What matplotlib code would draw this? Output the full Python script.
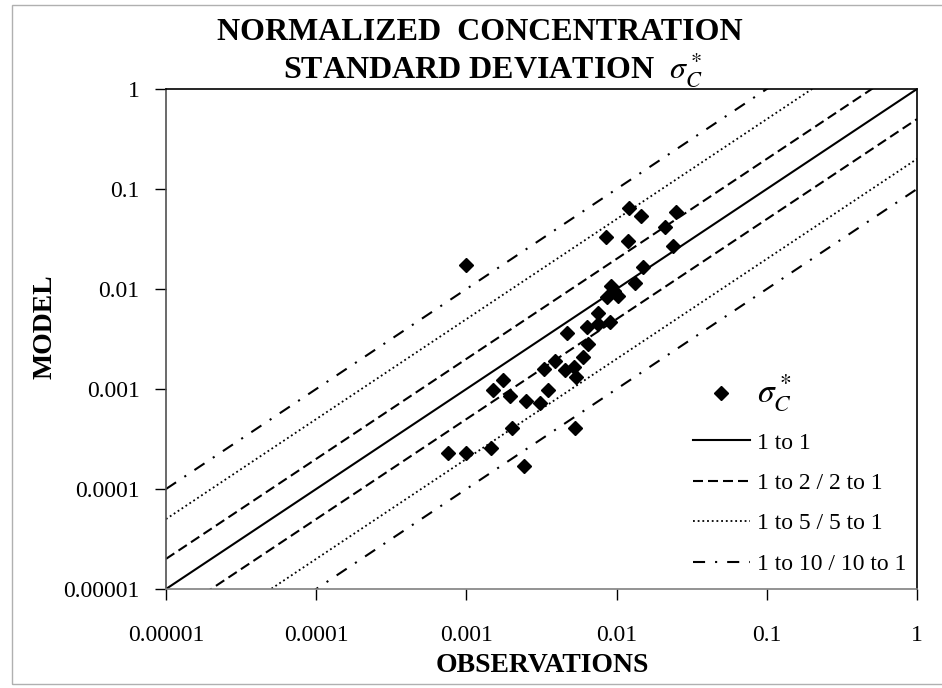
import matplotlib
matplotlib.use("Agg")
import matplotlib.pyplot as plt
from matplotlib.lines import Line2D
from matplotlib.patches import Rectangle
from matplotlib.ticker import NullLocator

plt.rcParams['font.family'] = ['Liberation Serif', 'DejaVu Serif']
plt.rcParams['mathtext.fontset'] = 'stix'

# wartości (obserwacje / model)
obs = [0.00099, 0.0121, 0.0145, 0.0249, 0.0085, 0.0119, 0.0210, 0.0237, 0.0150, 0.0133,
       0.0092, 0.0102, 0.0086, 0.0096, 0.0075, 0.0090, 0.0064, 0.0047, 0.0065, 0.0060,
       0.0039, 0.0033, 0.0045, 0.0052, 0.0054, 0.0035, 0.00175, 0.0015, 0.00195, 0.0025,
       0.0031, 0.0020, 0.0053, 0.00075, 0.0010, 0.00146, 0.0024, 0.0075]
model = [0.0174, 0.0646, 0.0537, 0.0589, 0.0331, 0.0302, 0.0417, 0.0269, 0.0166, 0.0115,
         0.0107, 0.0085, 0.0083, 0.0096, 0.0058, 0.0047, 0.0042, 0.0036, 0.0028, 0.0021,
         0.0019, 0.0016, 0.00155, 0.00166, 0.00132, 0.00098, 0.00123, 0.00098, 0.00085, 0.00076,
         0.00072, 0.00041, 0.00041, 0.00023, 0.00023, 0.00026, 0.00017, 0.0045]

tick_vals = [0.00001, 0.0001, 0.001, 0.01, 0.1, 1]
tick_labels = ['0.00001', '0.0001', '0.001', '0.01', '0.1', '1']
line_ends = [0.00001, 1]
factors = [1, 2, 5, 10]  # linie 1:1, 1:2, 1:5, 1:10
line_labels = ['1 to 1', '1 to 2 / 2 to 1', '1 to 5 / 5 to 1', '1 to 10 / 10 to 1']
styles = ['-', (0, (4.8, 2.4)), (0, (1, 1.6)), (0, (5.8, 4.8, 1, 4.8))]

fig = plt.figure(figsize=(9.42, 6.88), dpi=100)
ax = fig.add_axes([166/942, 1-589/688, 751/942, 500/688])
ax.set_xscale('log')
ax.set_yscale('log')

handles = []
for f, st, lab in zip(factors, styles, line_labels):
    lw = 1.5 if f != 5 else 1.3
    ax.plot(line_ends, [v*f for v in line_ends], color='black', ls=st, lw=lw)
    if f != 1:
        ax.plot(line_ends, [v/f for v in line_ends], color='black', ls=st, lw=lw)
    handles.append(Line2D([], [], color='black', ls=st, lw=lw))

ax.plot(obs, model, 'D', color='black', ms=7.5, ls='none')

ax.set_xlim(0.00001, 1)
ax.set_ylim(0.00001, 1)
ax.set_xticks(tick_vals)
ax.set_xticklabels(tick_labels)
ax.set_yticks(tick_vals)
ax.set_yticklabels(tick_labels)
ax.xaxis.set_minor_locator(NullLocator())
ax.yaxis.set_minor_locator(NullLocator())
ax.tick_params(axis='both', direction='out', length=8, width=1, labelsize=17)
ax.tick_params(axis='x', pad=18)
ax.tick_params(axis='y', pad=11)
for s in ax.spines.values():
    s.set_linewidth(1.2)
ax.spines['bottom'].set_color('#808080')
ax.spines['left'].set_color('#505050')

h0 = Line2D([], [], marker='D', color='black', ms=7.5, ls='none')
leg = ax.legend([h0] + handles, [r'$\sigma_C^*$'] + line_labels, loc='lower left',
                bbox_to_anchor=(0.683, 0.0), frameon=False, fontsize=17,
                handlelength=2.4, handletextpad=0.3, labelspacing=0.8, borderaxespad=0.2)
leg.get_texts()[0].set_fontsize(24)

fig.text(480/942, 1-32/688, 'NORMALIZED  CONCENTRATION', ha='center', va='center',
         fontsize=23, fontweight='bold')
fig.text(493/942, 1-70/688, r'STANDARD DEVIATION  $\sigma_C^*$', ha='center', va='center',
         fontsize=23, fontweight='bold')
fig.text(45/942, 1-327/688, 'MODEL', rotation=90, ha='center', va='center',
         fontsize=20, fontweight='bold')
fig.text(542/942, 1-665/688, 'OBSERVATIONS', ha='center', va='center',
         fontsize=20, fontweight='bold')

# ramka wokół obrazka
fig.patches.append(Rectangle((12/942, 1-684/688), 1.0, 679/688, transform=fig.transFigure,
                             fill=False, edgecolor='#b0b0b0', lw=1))

plt.savefig('out.png', dpi=100)
